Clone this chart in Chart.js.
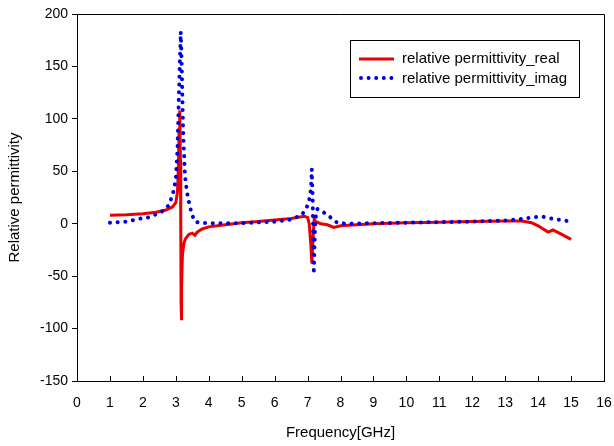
<!DOCTYPE html>
<html><head><meta charset="utf-8">
<script src="https://cdn.jsdelivr.net/npm/chart.js@4"></script>
<style>html,body{margin:0;padding:0;background:#fff}canvas{display:block}</style>
</head><body>
<canvas id="c" width="614" height="446"></canvas>
<script>
const seriesNames = ['relative permittivity_real', 'relative permittivity_imag'];
const realFreq = [1.0,1.5,2.0,2.4,2.7,2.9,3.0,3.05,3.08,3.1,3.12,3.14,3.15,3.16,3.17,3.18,3.2,3.25,3.3,3.4,3.5,3.58,3.65,3.8,4.0,4.5,5.0,5.5,6.0,6.5,6.9,7.0,7.05,7.1,7.13,7.16,7.2,7.25,7.4,7.6,7.8,8.0,8.5,9,10,11,12,13,13.5,13.8,14.0,14.3,14.45,14.7,15.0];
const realVals = [8,8.5,9.5,11,13,16,20,30,55,90,108,60,0,-75,-92,-60,-30,-18,-14,-10,-9,-11,-8,-5,-3,-1,1,2,3.5,5,7,6,0,-20,-38,-18,4,2,0,-1,-3.5,-2,-1,0,1,1.5,2,2.5,2.5,1,-2,-8,-6,-10,-15];
const imagFreq = [1.0,1.5,1.94,2.16,2.4,2.6,2.8,2.92,3.0,3.05,3.1,3.15,3.18,3.22,3.28,3.34,3.43,3.5,3.58,3.7,4.0,5.0,6.0,6.5,6.83,6.98,7.05,7.1,7.12,7.13,7.14,7.15,7.16,7.17,7.18,7.19,7.21,7.24,7.3,7.53,7.74,7.9,8.2,9,10,11,12,13,13.5,13.8,14.1,14.4,14.7,15.0];
const imagVals = [1,2,5,6,9,12,18,30,42,70,130,183,150,90,45,30,16,8,2,1,0.5,0.5,2,4,8.5,16,23,32,45,52,40,30,15,-10,-30,-48,-20,5,14,10,5,1,0,0.5,1,1.5,2,3,4.5,6,7,5,3.5,2];
const xTickValues = [0,1,2,3,4,5,6,7,8,9,10,11,12,13,14,15,16];
const yTickValues = [-150,-100,-50,0,50,100,150,200];

const FONT = '"Liberation Sans", Arial, sans-serif';
const RED = 'rgb(235,0,0)';
const BLUE = 'rgb(0,0,225)';

const toPts = (xs, ys) => xs.map((x, i) => ({x: x, y: ys[i]}));

const framePlugin = {
  id: 'frame',
  afterDraw(chart) {
    const ctx = chart.ctx, a = chart.chartArea;
    const xs = chart.scales.x;
    ctx.save();
    ctx.strokeStyle = '#000';
    ctx.lineWidth = 1;
    ctx.beginPath();
    ctx.moveTo(a.left, a.top + 0.5);
    ctx.lineTo(a.right + 0.5, a.top + 0.5);
    ctx.lineTo(a.right + 0.5, a.bottom);
    ctx.stroke();
    ctx.beginPath();
    xTickValues.forEach(v => {
      const px = Math.round(xs.getPixelForValue(v)) + 0.5;
      ctx.moveTo(px, a.bottom);
      ctx.lineTo(px, a.bottom - 5);
    });
    ctx.stroke();
    const lx = 350, ly = 40, lw = 229, lh = 57;
    ctx.fillStyle = '#fff';
    ctx.fillRect(lx, ly, lw, lh);
    ctx.strokeRect(lx + 0.5, ly + 0.5, lw, lh);
    ctx.lineCap = 'butt';
    ctx.strokeStyle = RED;
    ctx.lineWidth = 3;
    ctx.beginPath(); ctx.moveTo(359, 59); ctx.lineTo(394, 59); ctx.stroke();
    ctx.fillStyle = BLUE;
    for (let i = 0; i < 5; i++) {
      ctx.beginPath(); ctx.arc(361 + i * 7.6, 78, 2, 0, Math.PI * 2); ctx.fill();
    }
    ctx.fillStyle = '#000';
    ctx.font = '15px ' + FONT;
    ctx.textBaseline = 'middle';
    ctx.textAlign = 'left';
    ctx.fillText(seriesNames[0], 402, 59);
    ctx.fillText(seriesNames[1], 402, 79);
    ctx.restore();
  }
};

new Chart(document.getElementById('c'), {
  type: 'scatter',
  data: {
    datasets: [
      { label: seriesNames[0], data: toPts(realFreq, realVals), showLine: true,
        borderColor: RED, backgroundColor: RED, borderWidth: 3, pointRadius: 0,
        tension: 0, order: 1 },
      { label: seriesNames[1], data: toPts(imagFreq, imagVals), showLine: true,
        borderColor: BLUE, backgroundColor: BLUE, borderWidth: 4, pointRadius: 0,
        borderDash: [0.1, 7.6], borderCapStyle: 'round', tension: 0, order: 0 }
    ]
  },
  options: {
    responsive: false,
    animation: false,
    devicePixelRatio: 1,
    layout: { padding: { left: 0, right: 0, top: 14, bottom: 0 } },
    plugins: { legend: { display: false }, tooltip: { enabled: false } },
    scales: {
      x: {
        type: 'linear', min: 0, max: 16,
        afterBuildTicks: s => { s.ticks = xTickValues.map(v => ({value: v})); },
        afterFit: s => { s.height = 65; s.paddingRight = 10; },
        grid: { drawOnChartArea: false, drawTicks: false },
        border: { display: true, color: '#000', width: 1 },
        ticks: { color: '#000', font: { family: FONT, size: 14 }, padding: 14, maxRotation: 0, autoSkip: false },
        title: { display: true, text: 'Frequency[GHz]', color: '#000', font: { family: FONT, size: 15 }, padding: { top: 0, bottom: 4 } }
      },
      y: {
        type: 'linear', min: -150, max: 200,
        afterBuildTicks: s => { s.ticks = yTickValues.map(v => ({value: v})); },
        afterFit: s => { s.width = 77; },
        grid: { drawOnChartArea: false, drawTicks: true, tickLength: 5, color: '#000' },
        border: { display: true, color: '#000', width: 1 },
        ticks: { color: '#000', font: { family: FONT, size: 14 }, padding: 4 },
        title: { display: true, text: 'Relative permittivity', color: '#000', font: { family: FONT, size: 15 }, padding: { top: 6, bottom: 0 } }
      }
    }
  },
  plugins: [framePlugin]
});
</script>
</body></html>
